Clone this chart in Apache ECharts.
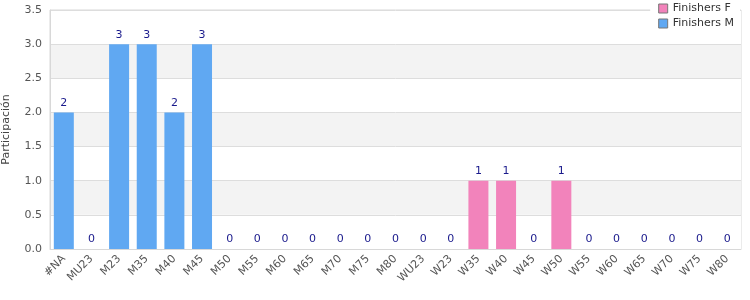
<!DOCTYPE html>
<html><head><meta charset="utf-8">
<script src="https://cdn.jsdelivr.net/npm/echarts@6/dist/echarts.min.js"></script>
<style>html,body{margin:0;padding:0;background:#fff}#c{width:750px;height:300px}</style>
</head><body><div id="c"></div>
<script>
const categories = ['#NA','MU23','M23','M35','M40','M45','M50','M55','M60','M65','M70','M75','M80','WU23','W23','W35','W40','W45','W50','W55','W60','W65','W70','W75','W80'];
const finishersM = [2,0,3,3,2,3,0,0,0,0,0,0,0,0,0,0,0,0,0,0,0,0,0,0,0];
const finishersF = [0,0,0,0,0,0,0,0,0,0,0,0,0,0,0,1,1,0,1,0,0,0,0,0,0];
const yTicks = [0,0.5,1,1.5,2,2.5,3,3.5];

const chart = echarts.init(document.getElementById('c'), null, {renderer:'canvas'});
chart.setOption({
  animation:false,
  textStyle:{fontFamily:'DejaVu Sans'},
  grid:{left:50,right:9,top:10,bottom:51,containLabel:false,outerBoundsMode:'none',show:true,borderColor:'#d8d8d8',borderWidth:1,backgroundColor:'transparent'},
  legend:{
    orient:'vertical', right:10, top:2, itemGap:4,
    backgroundColor:'#fff', padding:[1,6,2,8],
    icon:'rect', itemWidth:9, itemHeight:9,
    textStyle:{fontSize:11,color:'#333'},
    data:[
      {name:'Finishers F', itemStyle:{borderColor:'#777',borderWidth:1}},
      {name:'Finishers M', itemStyle:{borderColor:'#777',borderWidth:1}}
    ]
  },
  xAxis:{
    type:'category', data:categories,
    axisLine:{lineStyle:{color:'#d8d8d8'}},
    axisTick:{show:false},
    axisLabel:{rotate:45, interval:0, fontSize:11, color:'#555', margin:8}
  },
  yAxis:{
    type:'value', min:0, max:3.5, interval:0.5,
    name:'Participación', nameLocation:'middle', nameGap:38,
    nameTextStyle:{fontSize:11,color:'#444'},
    axisLine:{show:true,lineStyle:{color:'#d8d8d8'}},
    axisLabel:{fontSize:11,color:'#555',margin:8,formatter:v=>v.toFixed(1)},
    splitLine:{lineStyle:{color:'#dddddd'}},
    splitArea:{show:true,areaStyle:{color:['#ffffff','#f3f3f3']}}
  },
  series:[
    {name:'Finishers M', type:'bar', stack:'a', data:finishersM, barWidth:20,
     itemStyle:{color:'#60a8f2'}},
    {name:'Finishers F', type:'bar', stack:'a', data:finishersF, barWidth:20,
     itemStyle:{color:'#f283bb'},
     label:{show:true, position:'top', distance:4, fontSize:11, color:'#1a1a8c',
       formatter:p=>String(finishersF[p.dataIndex]+finishersM[p.dataIndex])}}
  ]
});
</script></body></html>
